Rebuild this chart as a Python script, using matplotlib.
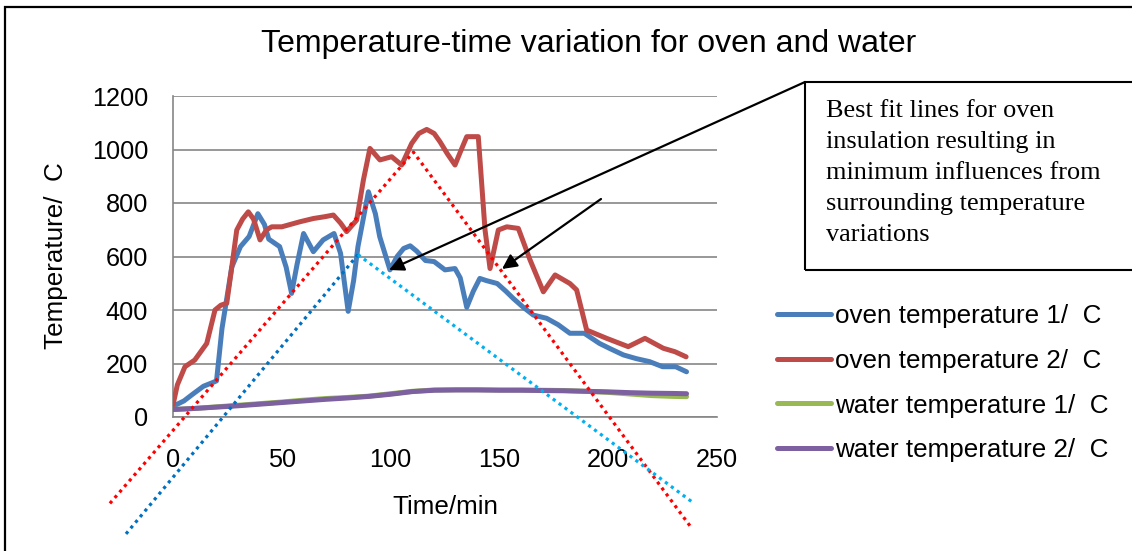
import matplotlib
matplotlib.use("Agg")
import matplotlib.pyplot as plt
from matplotlib.patches import Rectangle, FancyArrowPatch

# ---------------- data ----------------
oven1_t = [0, 5, 9, 14, 18, 20, 22.5, 27, 31, 35, 39, 42, 44, 49, 52, 54.5, 57, 60,
           64.5, 69, 74, 77, 80.5, 83, 85, 89.8, 93, 95, 99.7, 103, 106, 109, 112, 116,
           120, 125, 129.6, 132, 135, 138, 141, 144, 149, 153, 156.4, 161, 165.6, 171.7,
           177, 182.4, 189, 196, 201, 207, 213, 219, 225, 231, 236]
oven1_T = [40, 60, 85, 115, 128, 135, 330, 560, 637, 675, 760, 720, 665, 637, 560, 462, 570, 686,
           618, 662, 686, 612, 395, 510, 637, 842, 760, 674, 550, 600, 630, 640, 620, 585,
           581, 550, 555, 520, 410, 470, 518, 510, 499, 470, 443, 410, 381, 369,
           345, 313, 313, 275, 255, 232, 218, 207, 188, 188, 169]

oven2_t = [0, 2, 5.5, 10, 15.5, 19.3, 22, 24.7, 27, 29.3, 32, 34.6, 37, 40, 43, 45.4, 50,
           58.4, 64.5, 69.9, 73.7, 77, 79.8, 84.4, 87.5, 90.5, 95.1, 100.5, 105.1, 109.7,
           113, 116.6, 120, 122.7, 126, 129.6, 132, 135, 140.3, 143.4, 145.7, 149.5, 153.4,
           158.7, 164.1, 170.2, 175.6, 182.4, 185.5, 190.1, 199.3, 209.2, 216.9, 225.3,
           230.7, 235.8]
oven2_T = [45, 120, 188, 213, 275, 400, 418, 425, 560, 699, 740, 767, 740, 662, 700, 711, 711,
           730, 742, 749, 755, 725, 693, 736, 886, 1004, 961, 973, 942, 1023,
           1060, 1075, 1060, 1029, 985, 942, 990, 1048, 1048, 699, 555, 699, 711,
           705, 587, 468, 531, 499, 475, 325, 294, 263, 294, 257,
           244, 225]

water_t = [0, 10, 20, 30, 40, 50, 60, 70, 80, 90, 100, 110, 120, 130, 140, 150, 160, 170,
           180, 190, 200, 210, 220, 230, 236]
water1_T = [28, 32, 38, 44, 50, 56, 63, 69, 73, 78, 87, 96, 101, 102, 102, 101, 101, 100,
            99, 96, 92, 86, 80, 77, 76]
water2_T = [28, 32, 37, 42, 48, 54, 60, 66, 71, 77, 85, 95, 100, 101, 101, 100, 100, 99,
            98, 96, 94, 91, 89, 88, 87]

# best fit (dotted) lines
fit2_t = [-29, 110.5, 238.4]
fit2_T = [-323, 990, -416]
fit1_rise_t = [-21.6, 85]
fit1_rise_T = [-437, 607]
fit1_fall_t = [85, 238.8]
fit1_fall_T = [607, -319]

series_labels = ["oven temperature 1/  C", "oven temperature 2/  C",
                 "water temperature 1/  C", "water temperature 2/  C"]
x_ticks = [0, 50, 100, 150, 200, 250]
y_ticks = [0, 200, 400, 600, 800, 1000, 1200]
title = "Temperature-time variation for oven and water"
x_label = "Time/min"
y_label = "Temperature/  C"
note_lines = ["Best fit lines for oven", "insulation resulting in",
              "minimum influences from", "surrounding temperature", "variations"]

# ---------------- figure ----------------
W, H = 1132, 551
plt.rcParams['font.family'] = ['Liberation Sans', 'DejaVu Sans']
fig = plt.figure(figsize=(W / 100, H / 100), dpi=100)

def fx(px):
    return px / W

def fy(py):
    return (H - py) / H

ax = fig.add_axes([fx(173), fy(417), (717 - 173) / W, (417 - 96) / H])

c_blue, c_red, c_green, c_purple = "#4A7EBB", "#BE4B48", "#98B954", "#7D60A0"
lw = 3.6
style = dict(lw=lw, solid_joinstyle='round', solid_capstyle='round', zorder=3)
ax.plot(oven1_t, oven1_T, color=c_blue, label=series_labels[0], **style)
ax.plot(oven2_t, oven2_T, color=c_red, label=series_labels[1], **style)
ax.plot(water_t, water1_T, color=c_green, label=series_labels[2], **style)
ax.plot(water_t, water2_T, color=c_purple, label=series_labels[3], **style)

dot = (0, (1, 1.3))
fit_style = dict(lw=2.3, ls=dot, clip_on=False, zorder=4, label='_nolegend_')
ax.plot(fit2_t, fit2_T, color="#FF0000", **fit_style)
ax.plot(fit1_rise_t, fit1_rise_T, color="#0070C0", **fit_style)
ax.plot(fit1_fall_t, fit1_fall_T, color="#00B0F0", **fit_style)

ax.set_xlim(0, 250)
ax.set_ylim(0, 1200)
ax.set_xticks(x_ticks)
ax.set_yticks(y_ticks)
ax.tick_params(axis='both', length=0, labelsize=18.2)
ax.tick_params(axis='x', pad=22)
ax.tick_params(axis='y', pad=18)
ax.grid(axis='y', color="#868686", lw=1.2)
ax.set_axisbelow(True)
for s in ['top', 'right']:
    ax.spines[s].set_visible(False)
for s in ['left', 'bottom']:
    ax.spines[s].set_color("#868686")
    ax.spines[s].set_linewidth(1.2)

# axis labels and title
fig.text(fx(56), fy(256), y_label, rotation=90, ha='center', va='center', fontsize=18.7)
fig.text(fx(445), fy(507), x_label, ha='center', va='center', fontsize=18.7)
fig.text(fx(588.5), fy(52), title, ha='center', va='baseline', fontsize=23)

# legend
ax.legend(loc='upper left', bbox_to_anchor=(fx(777), fy(304)), bbox_transform=fig.transFigure,
          frameon=False, fontsize=18.7, handlelength=2.08, handletextpad=0.15,
          borderaxespad=0, borderpad=0, labelspacing=0.8)

# outer frame
fig.patches.append(Rectangle((fx(5), fy(600)), fx(1200), (600 - 7) / H, fill=False,
                             edgecolor='black', lw=1.6, transform=fig.transFigure,
                             figure=fig))
# note box
fig.patches.append(Rectangle((fx(805), fy(270)), fx(400), (270 - 82) / H, fill=False,
                             edgecolor='black', lw=1.5, transform=fig.transFigure,
                             figure=fig))
for i, line in enumerate(note_lines):
    fig.text(fx(826), fy(117 + 31.0 * i), line, ha='left', va='baseline', fontsize=18.9,
             family=['Liberation Serif', 'DejaVu Serif'])

# arrows
arrow_kw = dict(arrowstyle='-|>', color='black', lw=1.6, mutation_scale=22,
                shrinkA=0, shrinkB=0, transform=fig.transFigure)
fig.add_artist(FancyArrowPatch((fx(805), fy(82)), (fx(389), fy(270)), **arrow_kw))
fig.add_artist(FancyArrowPatch((fx(601), fy(199)), (fx(502), fy(269)), **arrow_kw))

fig.savefig("out.png", dpi=100)
